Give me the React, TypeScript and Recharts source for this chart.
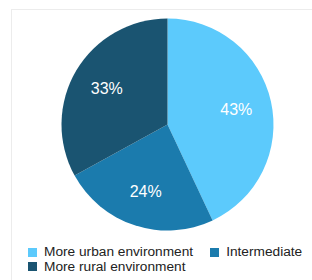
import React from "react";
import { PieChart, Pie, Cell, Legend } from "recharts";

const categories = ["More urban environment", "Intermediate", "More rural environment"];
const values = [43, 24, 33];
const colors = ["#5CCAFC", "#1B7BAD", "#1A5471"];

const data = categories.map((name, i) => ({ name, value: values[i] }));
const FONT = "'Liberation Sans', Arial, sans-serif";
const RAD = Math.PI / 180;

const renderLabel = (props: any) => {
  const { cx, cy, midAngle, outerRadius, value } = props;
  const r = outerRadius * 0.665;
  const x = cx + r * Math.cos(-midAngle * RAD);
  const y = cy + r * Math.sin(-midAngle * RAD);
  return (
    <text
      x={x}
      y={y}
      fill="#ffffff"
      textAnchor="middle"
      dominantBaseline="central"
      fontSize={16}
      fontFamily={FONT}
    >
      {value}%
    </text>
  );
};

const LegendContent = () => (
  <div
    style={{
      display: "flex",
      flexWrap: "wrap",
      width: 290,
      columnGap: 17,
      fontFamily: FONT,
      fontSize: 13.7,
      lineHeight: "14.5px",
      color: "#222",
    }}
  >
    {categories.map((c, i) => (
      <div key={c} style={{ display: "flex", alignItems: "center", whiteSpace: "nowrap" }}>
        <span
          style={{
            display: "inline-block",
            width: 9,
            height: 9,
            background: colors[i],
            marginRight: 7,
          }}
        />
        <span>{c}</span>
      </div>
    ))}
  </div>
);

export default function App() {
  return (
    <div
      style={{
        position: "fixed",
        left: 0,
        top: 0,
        width: 312,
        height: 280,
        overflow: "hidden",
        background: "#fff",
      }}
    >
      <div
        style={{
          position: "absolute",
          left: 11,
          top: 9,
          width: 330,
          height: 300,
          border: "1px solid #ececec",
          boxSizing: "border-box",
        }}
      />
      <div style={{ position: "absolute", left: 0, top: 0 }}>
        <PieChart width={312} height={280} margin={{ top: 0, right: 0, bottom: 0, left: 0 }}>
          <Pie
            data={data}
            dataKey="value"
            nameKey="name"
            cx={167.5}
            cy={124.5}
            outerRadius={106}
            startAngle={90}
            endAngle={-270}
            stroke="none"
            labelLine={false}
            label={renderLabel}
            isAnimationActive={false}
          >
            {data.map((d, i) => (
              <Cell key={d.name} fill={colors[i]} />
            ))}
          </Pie>
          <Legend
            content={<LegendContent />}
            wrapperStyle={{ position: "absolute", left: 28, top: 245, width: 290 }}
          />
        </PieChart>
      </div>
    </div>
  );
}
